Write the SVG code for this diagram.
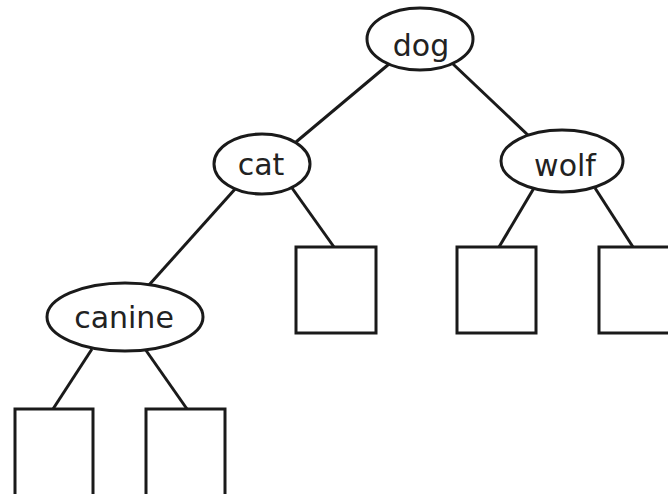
<svg xmlns="http://www.w3.org/2000/svg" width="668" height="494" viewBox="0 0 668 494">
  <style>
    .edge { stroke: #1a1a1a; stroke-width: 3; fill: none; stroke-linecap: butt; }
    .key { fill: #ffffff; stroke: #1a1a1a; stroke-width: 3; }
    .leaf { fill: #ffffff; stroke: #1a1a1a; stroke-width: 3; }
    .label { font-family: "DejaVu Sans", "Noto Sans", sans-serif; font-size: 30px; fill: #222222; text-anchor: middle; }
  </style>
  <rect width="668" height="494" fill="#ffffff"/>

  <!-- tree edges -->
  <g id="connectors">
    <line class="edge" x1="389" y1="64" x2="296" y2="142"/>
    <line class="edge" x1="453" y1="64" x2="530" y2="137"/>
    <line class="edge" x1="236" y1="188" x2="149" y2="285"/>
    <line class="edge" x1="292" y1="188" x2="334" y2="247"/>
    <line class="edge" x1="534" y1="188" x2="499" y2="247"/>
    <line class="edge" x1="595" y1="188" x2="633" y2="247"/>
    <line class="edge" x1="92" y1="349" x2="53" y2="409"/>
    <line class="edge" x1="145" y1="349" x2="187" y2="409"/>
  </g>

  <!-- keys -->
  <g id="node-dog">
    <ellipse class="key" cx="420" cy="39" rx="53" ry="31"/>
    <text class="label" x="421" y="56">dog</text>
  </g>
  <g id="node-cat">
    <ellipse class="key" cx="262" cy="164" rx="48" ry="30"/>
    <text class="label" x="261" y="175">cat</text>
  </g>
  <g id="node-wolf">
    <ellipse class="key" cx="562" cy="161" rx="61" ry="31"/>
    <text class="label" x="565" y="176">wolf</text>
  </g>
  <g id="node-canine">
    <ellipse class="key" cx="125" cy="317" rx="78" ry="34"/>
    <text class="label" x="124" y="328">canine</text>
  </g>

  <!-- empty leaves -->
  <g id="leaf-cat-right">
    <rect class="leaf" x="296" y="247" width="80" height="86"/>
  </g>
  <g id="leaf-wolf-left">
    <rect class="leaf" x="457" y="247" width="79" height="86"/>
  </g>
  <g id="leaf-wolf-right">
    <rect class="leaf" x="599" y="247" width="80" height="86"/>
  </g>
  <g id="leaf-canine-left">
    <rect class="leaf" x="15" y="409" width="78" height="100"/>
  </g>
  <g id="leaf-canine-right">
    <rect class="leaf" x="146" y="409" width="79" height="100"/>
  </g>
</svg>
